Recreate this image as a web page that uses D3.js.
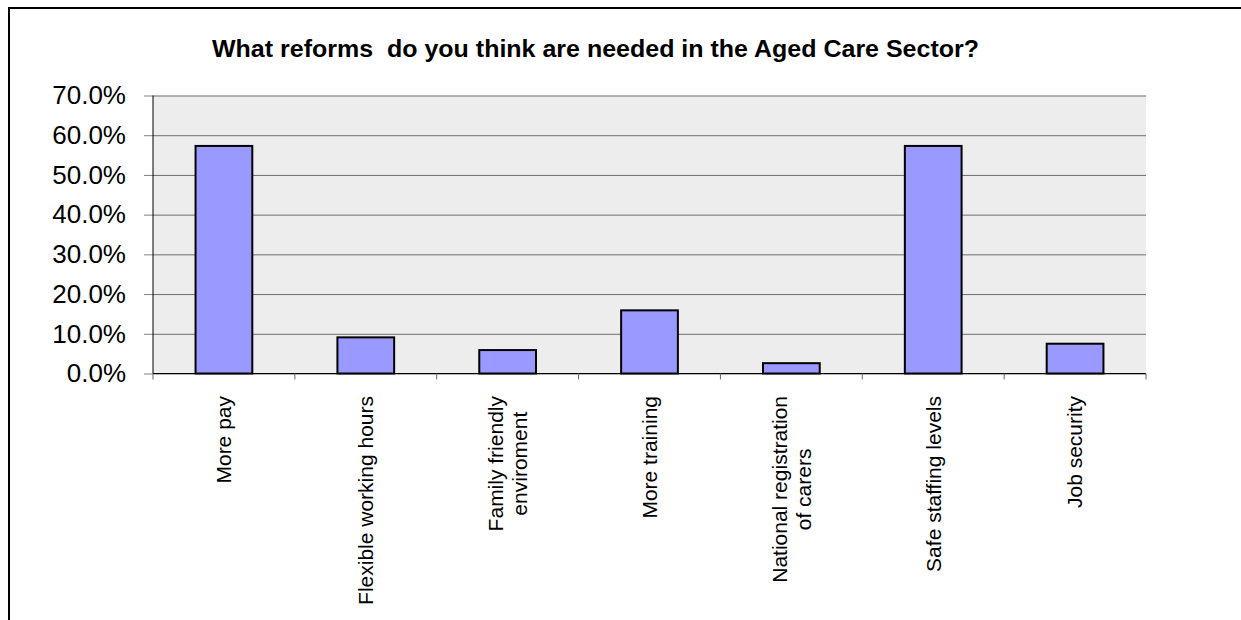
<!DOCTYPE html>
<html>
<head>
<meta charset="utf-8">
<script src="https://cdn.jsdelivr.net/npm/d3@7"></script>
<style>
  body { margin: 0; background: #fff; }
  svg text { font-family: "Liberation Sans", Arial, sans-serif; fill: #000; }
</style>
</head>
<body>
<div id="chart"></div>
<script>
// data
const categories = ["More pay", "Flexible working hours", "Family friendly\nenviroment", "More training",
                    "National registration\nof carers", "Safe staffing levels", "Job security"];
const values = [0.573, 0.091, 0.059, 0.159, 0.026, 0.573, 0.075];
const yTicks = [0, 0.1, 0.2, 0.3, 0.4, 0.5, 0.6, 0.7];
const title = "What reforms  do you think are needed in the Aged Care Sector?";

const width = 1241, height = 620;
const plot = { left: 153, right: 1146, top: 95.5, bottom: 373.5 };

const svg = d3.select("#chart").append("svg")
    .attr("width", width)
    .attr("height", height);

// outer frame (runs off the right and bottom of the picture)
svg.append("rect")
    .attr("x", 9).attr("y", 8)
    .attr("width", 1300).attr("height", 700)
    .attr("fill", "none")
    .attr("stroke", "#000")
    .attr("stroke-width", 2);

const x = d3.scaleBand().domain(categories).range([plot.left, plot.right]);
const y = d3.scaleLinear().domain([0, 0.7]).range([plot.bottom, plot.top]);

// plot background
svg.append("rect")
    .attr("x", plot.left).attr("y", plot.top)
    .attr("width", plot.right - plot.left)
    .attr("height", plot.bottom - plot.top)
    .attr("fill", "#ededed");

// gridlines
const grid = svg.append("g")
    .attr("transform", `translate(${plot.left},0)`)
    .call(d3.axisLeft(y).tickValues(yTicks).tickSize(-(plot.right - plot.left)).tickFormat(""));
grid.select(".domain").remove();
grid.selectAll("line").attr("stroke", "#6e6e6e").attr("stroke-width", 1);

// y axis
const yAxis = svg.append("g")
    .attr("transform", `translate(${plot.left},0)`)
    .call(d3.axisLeft(y).tickValues(yTicks).tickSize(9).tickPadding(18).tickFormat(d3.format(".1%")));
yAxis.select(".domain").remove();
yAxis.selectAll("line").attr("stroke", "#808080");
yAxis.selectAll("text").style("font-size", "26px").style("fill", "#000");

// axis lines
svg.append("line")
    .attr("x1", plot.left).attr("x2", plot.left)
    .attr("y1", plot.top).attr("y2", plot.bottom)
    .attr("stroke", "#000");
svg.append("line")
    .attr("x1", plot.left).attr("x2", plot.right)
    .attr("y1", plot.bottom).attr("y2", plot.bottom)
    .attr("stroke", "#000");

// category separators below the axis
const edges = categories.map(c => x(c)).concat([plot.right]);
svg.selectAll(".xtick")
    .data(edges)
    .enter().append("line")
    .attr("class", "xtick")
    .attr("x1", d => d).attr("x2", d => d)
    .attr("y1", plot.bottom).attr("y2", plot.bottom + 6)
    .attr("stroke", "#666");

// bars
const barW = x.bandwidth() * 0.4;
svg.selectAll(".bar")
    .data(categories)
    .enter().append("rect")
    .attr("class", "bar")
    .attr("x", d => x(d) + (x.bandwidth() - barW) / 2)
    .attr("y", (d, i) => y(values[i]))
    .attr("width", barW)
    .attr("height", (d, i) => y(0) - y(values[i]))
    .attr("fill", "#9999ff")
    .attr("stroke", "#000")
    .attr("stroke-width", 2);

// rotated category labels
const lineH = 24;
categories.forEach(c => {
    const lines = c.split("\n");
    const g = svg.append("g")
        .attr("transform", `translate(${x(c) + x.bandwidth() / 2},396) rotate(-90)`);
    const texts = lines.map((l, i) => g.append("text")
        .attr("y", (i - (lines.length - 1) / 2) * lineH)
        .attr("dy", "0.35em")
        .attr("text-anchor", "middle")
        .style("font-size", "21px")
        .text(l));
    const maxLen = d3.max(texts, t => t.node().getComputedTextLength());
    texts.forEach(t => t.attr("x", -maxLen / 2));
});

// title (keeps the double space)
svg.append("text")
    .attr("x", 212).attr("y", 57)
    .attr("textLength", 767)
    .attr("lengthAdjust", "spacingAndGlyphs")
    .style("white-space", "pre")
    .style("font-size", "24px")
    .style("font-weight", "bold")
    .text(title);
</script>
</body>
</html>
